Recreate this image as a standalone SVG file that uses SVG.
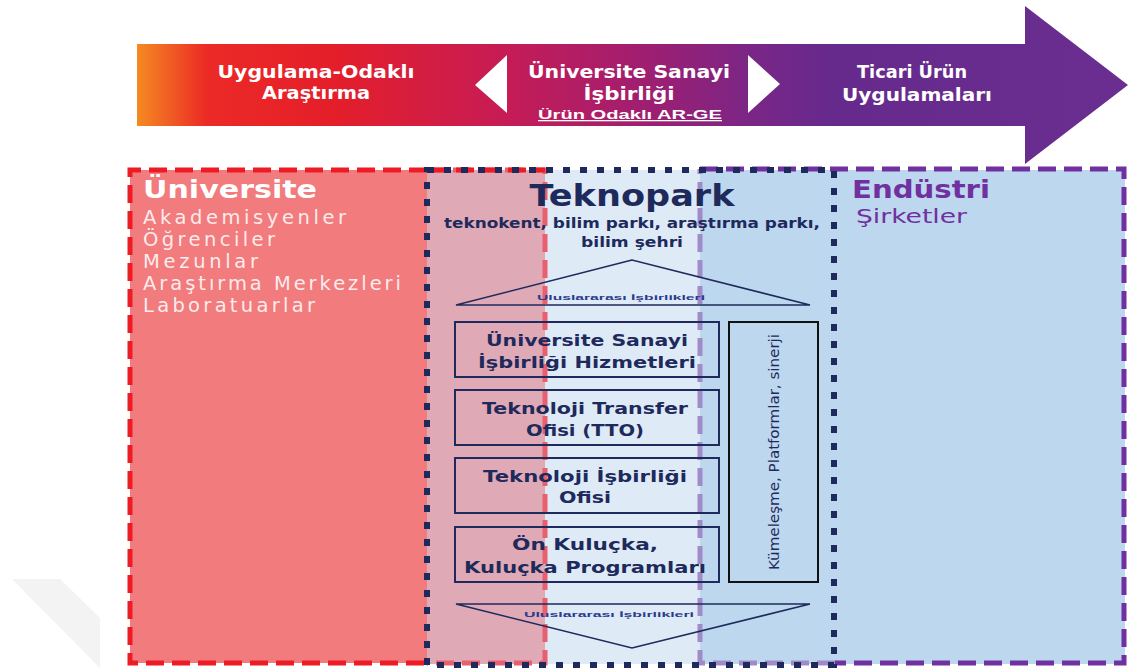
<svg xmlns="http://www.w3.org/2000/svg" width="1128" height="671" viewBox="0 0 1128 671">
<defs>
<linearGradient id="arrowGrad" x1="137" y1="0" x2="1128" y2="0" gradientUnits="userSpaceOnUse">
<stop offset="0" stop-color="#F58A22"/>
<stop offset="0.07" stop-color="#EC2A26"/>
<stop offset="0.2" stop-color="#E41E2A"/>
<stop offset="0.38" stop-color="#C41C58"/>
<stop offset="0.5" stop-color="#A31E6E"/>
<stop offset="0.62" stop-color="#7A2686"/>
<stop offset="0.7" stop-color="#662A8C"/>
<stop offset="1" stop-color="#6A2E90"/>
</linearGradient>
<style>
.wt{fill:#FFFFFF;font-family:"DejaVu Sans",Verdana,sans-serif;font-weight:bold;font-size:17px;text-anchor:middle}
.uni{fill:#FDEBEB;font-family:"DejaVu Sans",Verdana,sans-serif;font-size:19.5px}
.nv{fill:#1F2A5C;font-family:"DejaVu Sans","Liberation Sans",sans-serif;font-weight:bold;text-anchor:middle}
.box{fill:none;stroke:#1F2A5C;stroke-width:2}
.tiny{fill:#2B3A8C;font-family:"Liberation Sans",Arial,sans-serif;font-size:8px;text-anchor:middle;font-weight:bold}
.bx{fill:#1F2A5C;font-family:"DejaVu Sans",sans-serif;font-weight:bold;font-size:16.5px;text-anchor:middle}
</style>
</defs>

<polygon points="12,579 60,579 100,618 100,668" fill="#F3F3F3"/>

<g id="timeline-arrow">
<polygon points="137,44 1025,44 1025,6 1128,85 1025,164 1025,126 137,126" fill="url(#arrowGrad)"/>
<polygon points="475,85 507,55 507,113" fill="#FFFFFF"/>
<polygon points="780,84 748,55 748,113" fill="#FFFFFF"/>
<text class="wt" x="316" y="78" textLength="197" lengthAdjust="spacingAndGlyphs">Uygulama-Odaklı</text>
<text class="wt" x="316" y="99" textLength="108" lengthAdjust="spacingAndGlyphs">Araştırma</text>
<text class="wt" x="629" y="78" textLength="202" lengthAdjust="spacingAndGlyphs">Üniversite Sanayi</text>
<text class="wt" x="629" y="100" textLength="91" lengthAdjust="spacingAndGlyphs">İşbirliği</text>
<text class="wt" x="630" y="119" style="font-size:13px;text-decoration:underline;font-family:'Liberation Sans',Arial,sans-serif" textLength="184" lengthAdjust="spacingAndGlyphs">Ürün Odaklı AR-GE</text>
<text class="wt" x="912" y="78" textLength="110" lengthAdjust="spacingAndGlyphs">Ticari Ürün</text>
<text class="wt" x="917" y="101" textLength="150" lengthAdjust="spacingAndGlyphs">Uygulamaları</text>
</g>

<g id="backgrounds">
<rect x="130" y="170" width="297" height="493" fill="#F17B7D"/>
<rect x="427" y="170" width="118" height="494" fill="#DFA9B6"/>
<rect x="545" y="170" width="155" height="494" fill="#DEEBF7"/>
<rect x="700" y="170" width="425" height="494" fill="#BDD7EE"/>
</g>

<g id="universite">
<path d="M427,170 H130 V663 H427" fill="none" stroke="#ED1C24" stroke-width="5" stroke-dasharray="18,8"/>
<path d="M427,170 H545 V663 H427" fill="none" stroke="#E8606E" stroke-width="5" stroke-dasharray="18,8"/>
<path d="M430,170 H545" fill="none" stroke="#ED1C24" stroke-width="5" stroke-dasharray="18,8"/>
<text x="143" y="198" style="fill:#FFFFFF;font-family:'DejaVu Sans',Verdana,sans-serif;font-weight:bold;font-size:24px" textLength="174" lengthAdjust="spacingAndGlyphs">Üniversite</text>
<text class="uni" x="143" y="224" textLength="203" lengthAdjust="spacing">Akademisyenler</text>
<text class="uni" x="143" y="246" textLength="132" lengthAdjust="spacing">Öğrenciler</text>
<text class="uni" x="143" y="268" textLength="115" lengthAdjust="spacing">Mezunlar</text>
<text class="uni" x="143" y="290" textLength="258" lengthAdjust="spacing">Araştırma Merkezleri</text>
<text class="uni" x="143" y="312" textLength="172" lengthAdjust="spacing">Laboratuarlar</text>
</g>

<g id="endustri">
<path d="M700,169 H1124 V663 H835" fill="none" stroke="#7030A0" stroke-width="5" stroke-dasharray="18,8"/>
<path d="M835,663 H700 V169" fill="none" stroke="#A08BC9" stroke-width="5" stroke-dasharray="18,8"/>
<text x="852" y="198" style="fill:#7030A0;font-family:'DejaVu Sans',Verdana,sans-serif;font-weight:bold;font-size:24px" textLength="138" lengthAdjust="spacingAndGlyphs">Endüstri</text>
<text x="856" y="223" style="fill:#7030A0;font-family:'DejaVu Sans',Verdana,sans-serif;font-size:19px" textLength="111" lengthAdjust="spacingAndGlyphs">Şirketler</text>
</g>

<g id="teknopark">
<rect x="427" y="170" width="407" height="495" fill="none" stroke="#1F2A5C" stroke-width="6" stroke-dasharray="7,10"/>
<text class="nv" x="632" y="206" style="font-size:31px" textLength="205" lengthAdjust="spacingAndGlyphs">Teknopark</text>
<text class="nv" x="632" y="228" style="font-size:13.5px" textLength="376" lengthAdjust="spacingAndGlyphs">teknokent, bilim parkı, araştırma parkı,</text>
<text class="nv" x="632" y="247" style="font-size:13.5px" textLength="102" lengthAdjust="spacingAndGlyphs">bilim şehri</text>
</g>

<g id="intl-up">
<polygon points="632,260 456,305 810,305" fill="none" stroke="#1F2A5C" stroke-width="1.5"/>
<text class="tiny" x="621" y="300" textLength="168" lengthAdjust="spacingAndGlyphs">Uluslararası İşbirlikleri</text>
</g>

<g id="box-usih">
<rect class="box" x="455" y="322" width="264" height="55"/>
<text class="bx" x="587" y="346" textLength="202" lengthAdjust="spacingAndGlyphs">Üniversite Sanayi</text>
<text class="bx" x="587" y="368" textLength="218" lengthAdjust="spacingAndGlyphs">İşbirliği Hizmetleri</text>
</g>

<g id="box-tto">
<rect class="box" x="455" y="390" width="264" height="55"/>
<text class="bx" x="585" y="414" textLength="206" lengthAdjust="spacingAndGlyphs">Teknoloji Transfer</text>
<text class="bx" x="585" y="436" textLength="118" lengthAdjust="spacingAndGlyphs">Ofisi (TTO)</text>
</g>

<g id="box-tio">
<rect class="box" x="455" y="458" width="264" height="55"/>
<text class="bx" x="585" y="482" textLength="204" lengthAdjust="spacingAndGlyphs">Teknoloji İşbirliği</text>
<text class="bx" x="585" y="503" textLength="52" lengthAdjust="spacingAndGlyphs">Ofisi</text>
</g>

<g id="box-kuluçka">
<rect class="box" x="455" y="527" width="264" height="55"/>
<text class="bx" x="585" y="550" textLength="146" lengthAdjust="spacingAndGlyphs">Ön Kuluçka,</text>
<text class="bx" x="585" y="573" textLength="242" lengthAdjust="spacingAndGlyphs">Kuluçka Programları</text>
</g>

<g id="box-kumelesme">
<rect x="729" y="322" width="89" height="260" fill="none" stroke="#111111" stroke-width="2"/>
<text x="0" y="0" transform="translate(779,452) rotate(-90)" style="fill:#1F2A5C;font-family:'DejaVu Sans Condensed','Liberation Sans',sans-serif;font-size:14px;text-anchor:middle" textLength="236" lengthAdjust="spacingAndGlyphs">Kümeleşme, Platformlar, sinerji</text>
</g>

<g id="intl-down">
<polygon points="456,604 810,604 632,648" fill="none" stroke="#1F2A5C" stroke-width="1.5"/>
<text class="tiny" x="609" y="617" textLength="170" lengthAdjust="spacingAndGlyphs">Uluslararası İşbirlikleri</text>
</g>

<g id="connectors"></g>
</svg>
